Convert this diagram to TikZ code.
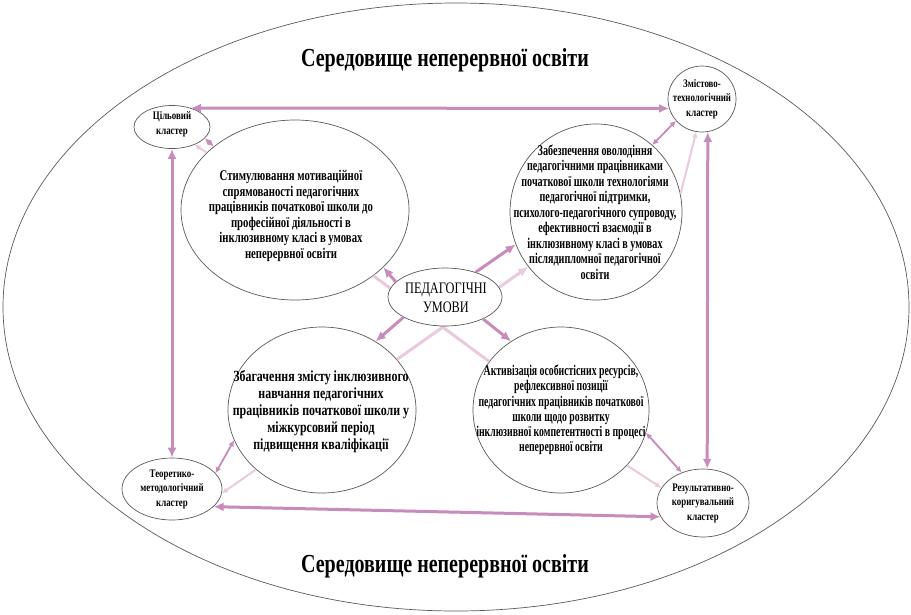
\documentclass[tikz,border=0pt]{standalone}
\usepackage{fontspec}
\setmainfont{Liberation Serif}
\newfontfamily\cf[FakeStretch=0.77]{Liberation Serif}
\newfontfamily\cfa[FakeStretch=0.725]{Liberation Serif}
\newfontfamily\cfb[FakeStretch=0.685]{Liberation Serif}
\newfontfamily\cfc[FakeStretch=0.66]{Liberation Serif}
\usetikzlibrary{arrows.meta,shapes.geometric}
\definecolor{dk}{RGB}{200,140,186}
\definecolor{lt}{RGB}{234,202,222}
\definecolor{bd}{RGB}{90,90,90}
\begin{document}
\begin{tikzpicture}[x=1pt,y=-1pt,
  ell/.style={ellipse,draw=bd,line width=0.7pt,fill=white,inner sep=0pt},
  ctext/.style={align=center},
  cltext/.style={align=center,font=\cf\bfseries\fontsize{11.5}{14.5}\selectfont},
  ttl/.style={font=\cf\bfseries\fontsize{26}{28}\selectfont},
  bigtip/.tip={Latex[length=10pt,width=9pt]},
  smtip/.tip={Latex[length=6pt,width=6pt]},
  dbl/.style={draw=dk,line width=3pt,bigtip-bigtip},
  darr/.style={draw=dk,line width=3pt,-bigtip},
  lline/.style={draw=lt,line width=3pt},
  larr/.style={draw=lt,line width=3pt,-bigtip},
  sdbl/.style={draw=dk,line width=1.8pt,smtip-smtip},
  slt/.style={draw=lt,line width=2pt,-smtip}]
\useasboundingbox (0,0) rectangle (911,614);
\node[ell,minimum width=906pt,minimum height=608pt] (outer) at (456,307) {};
\node[ttl] (t1) at (445,60) {Середовище неперервної освіти};
\node[ttl] (t2) at (445,566) {Середовище неперервної освіти};
% clusters
\node[ell,minimum width=76pt,minimum height=43pt] (cz) at (172,127) {};
\node[cltext] (czt) at (172,124) {Цільовий\\кластер};
\node[ell,minimum width=68pt,minimum height=66pt] (zt) at (702,99) {};
\node[cltext] (ztt) at (702,99) {Змістово-\\технологічний\\кластер};
\node[ell,minimum width=100pt,minimum height=62pt] (tm) at (172,489) {};
\node[cltext] (tmt) at (172,489) {Теоретико-\\методологічний\\кластер};
\node[ell,minimum width=92pt,minimum height=68pt] (rk) at (703,503) {};
\node[cltext] (rkt) at (703,503) {Результативно-\\коригувальний\\кластер};
% big circles
\node[ell,minimum width=228pt,minimum height=180pt] (tl) at (295,210) {};
\node[ctext,font=\cfa\bfseries\fontsize{14.8}{15.5}\selectfont] (tlt) at (291,216) {Стимулювання мотиваційної\\спрямованості педагогічних\\працівників початкової школи до\\професійної діяльності в\\інклюзивному класі в умовах\\неперервної освіти};
\node[ell,minimum width=172pt,minimum height=176pt] (tr) at (596,212) {};
\node[ctext,font=\cfb\bfseries\fontsize{14.8}{15.5}\selectfont] (trt) at (595,212) {Забезпечення оволодіння\\педагогічними працівниками\\початкової школи технологіями\\педагогічної підтримки,\\психолого-педагогічного супроводу,\\ефективності взаємодії в\\інклюзивному класі в умовах\\післядипломної педагогічної\\освіти};
\node[ell,minimum width=188pt,minimum height=166pt] (bl) at (322,410) {};
\node[ctext,font=\cf\bfseries\fontsize{15.5}{17}\selectfont] (blt) at (321,412) {Збагачення змісту інклюзивного\\навчання педагогічних\\працівників початкової школи у\\міжкурсовий період\\підвищення кваліфікації};
\node[ell,minimum width=176pt,minimum height=166pt] (br) at (561,410) {};
\node[ctext,font=\cfc\bfseries\fontsize{14.8}{15.3}\selectfont] (brt) at (561,410) {Активізація особистісних ресурсів,\\рефлексивної позиції\\педагогічних працівників початкової\\школи щодо розвитку\\інклюзивної компетентності в процесі\\неперервної освіти};
% cluster connectors
\draw[dbl] (cz.45) -- (zt.196);
\draw[dbl] (cz.south) -- (tm.north);
\draw[dbl] (zt.-80) -- (rk.83);
\draw[dbl] (tm.-23) -- (rk.198);
% small connectors
\draw[sdbl] (cz.-19) -- (tl.142);
\draw[slt] (tl.147) -- (cz.-38);
\draw[sdbl] (tr.50) -- (zt.-140);
\draw[slt] (tr.12) -- (zt.-100);
\draw[sdbl] (bl.-161) -- (tm.20);
\draw[slt] (bl.-138) -- (tm.-5);
\draw[sdbl] (br.-15) -- (rk.125);
\draw[slt] (br.-40) -- (rk.160);
% light cross lines
\draw[larr] (bl.34) -- (tr.-141);
\draw[lline] (br.146) -- (tl.-40);
% centre
\node[ell,minimum width=114pt,minimum height=58pt] (ce) at (445,297) {};
\node[align=center,font=\cf\fontsize{16}{19}\selectfont] (cet) at (446,298) {ПЕДАГОГІЧНІ\\УМОВИ};
\draw[darr] (ce.163) -- (tl.-33);
\draw[darr] (ce.39) -- (tr.-158);
\draw[darr] (ce.-154) -- (bl.52);
\draw[darr] (ce.-30) -- (br.126);
\end{tikzpicture}
\end{document}
